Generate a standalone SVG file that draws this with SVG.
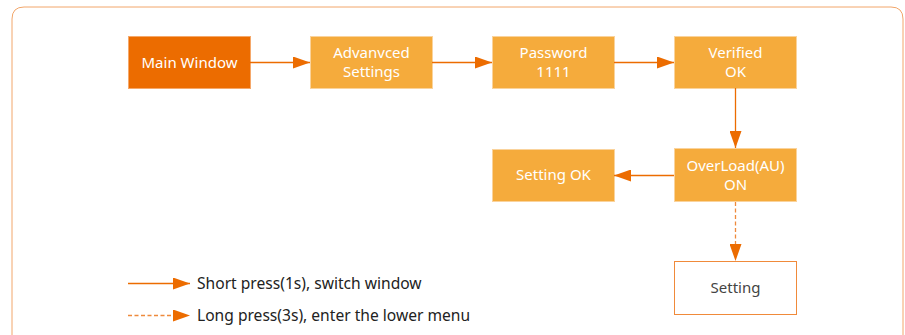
<svg xmlns="http://www.w3.org/2000/svg" width="905" height="335" viewBox="0 0 905 335">
<defs>
<style>
.box{fill:#f5ab3c;stroke:#fad39c;stroke-width:1}
.main{fill:#ec6c00;stroke:#f5a86a;stroke-width:1}
.white{fill:#ffffff;stroke:#f08a3a;stroke-width:1}
.t{font-family:"Noto Sans","Open Sans",sans-serif;font-size:15px;fill:#ffffff;text-anchor:middle}
.td{font-family:"Noto Sans","Open Sans",sans-serif;font-size:15px;fill:#444444;text-anchor:middle}
.lg{font-family:"Noto Sans","Open Sans",sans-serif;font-size:15.6px;fill:#222222}
.ln{stroke:#ec6c00;stroke-width:1.3;fill:none}
.hd{stroke:#ec6c00;stroke-opacity:0;fill:none}
.dash{stroke:#ee8a3c;stroke-width:1.3;fill:none;stroke-dasharray:4,2.5}
</style>
<marker id="ah" viewBox="0 0 17 12" refX="17" refY="6" markerWidth="17" markerHeight="12" markerUnits="userSpaceOnUse" orient="auto">
<path d="M0,0 L17,6 L0,12 Z" fill="#ec6c00"/>
</marker>
</defs>
<path d="M12,340 L12,19 Q12,7 24,7 L891,7 Q903,7 903,19 L903,340" fill="none" stroke="#f2a66a" stroke-width="1"/>
<g id="n-main"><rect class="main" x="128.5" y="36.5" width="122" height="52"/><text class="t" x="189.5" y="67.5">Main Window</text></g>
<g id="n-adv"><rect class="box" x="310.5" y="36.5" width="122" height="52"/><text class="t" x="371.5" y="58">Advanvced</text><text class="t" x="371.5" y="77">Settings</text></g>
<g id="n-pwd"><rect class="box" x="492.5" y="36.5" width="122" height="52"/><text class="t" x="553.5" y="58">Password</text><text class="t" x="553.5" y="77">1111</text></g>
<g id="n-ver"><rect class="box" x="674.5" y="36.5" width="122" height="52"/><text class="t" x="735.5" y="58">Verified</text><text class="t" x="735.5" y="77">OK</text></g>
<g id="n-ovl"><rect class="box" x="674.5" y="148.5" width="122" height="53"/><text class="t" x="735.5" y="171">OverLoad(AU)</text><text class="t" x="735.5" y="190">ON</text></g>
<g id="n-sok"><rect class="box" x="492.5" y="149.5" width="122" height="52"/><text class="t" x="553.5" y="180">Setting OK</text></g>
<g id="n-set"><rect class="white" x="674.5" y="261.5" width="122" height="53"/><text class="td" x="735.5" y="293">Setting</text></g>
<g id="connectors">
<line class="ln" x1="250" y1="62.5" x2="310" y2="62.5" marker-end="url(#ah)"/>
<line class="ln" x1="432" y1="62.5" x2="492" y2="62.5" marker-end="url(#ah)"/>
<line class="ln" x1="614" y1="62.5" x2="674" y2="62.5" marker-end="url(#ah)"/>
<line class="ln" x1="735.5" y1="88" x2="735.5" y2="148" marker-end="url(#ah)"/>
<line class="ln" x1="674" y1="175.5" x2="614" y2="175.5" marker-end="url(#ah)"/>
<line class="dash" x1="735.5" y1="202" x2="735.5" y2="245"/>
<line class="hd" x1="735.5" y1="250" x2="735.5" y2="261" marker-end="url(#ah)"/>
<line class="ln" x1="128" y1="283.5" x2="190" y2="283.5" marker-end="url(#ah)"/>
<line class="dash" x1="128" y1="315.5" x2="174" y2="315.5"/>
<line class="hd" x1="180" y1="315.5" x2="190" y2="315.5" marker-end="url(#ah)"/>
</g>
<text class="lg" x="197" y="289">Short press(1s), switch window</text>
<text class="lg" x="197" y="321">Long press(3s), enter the lower menu</text>
</svg>
